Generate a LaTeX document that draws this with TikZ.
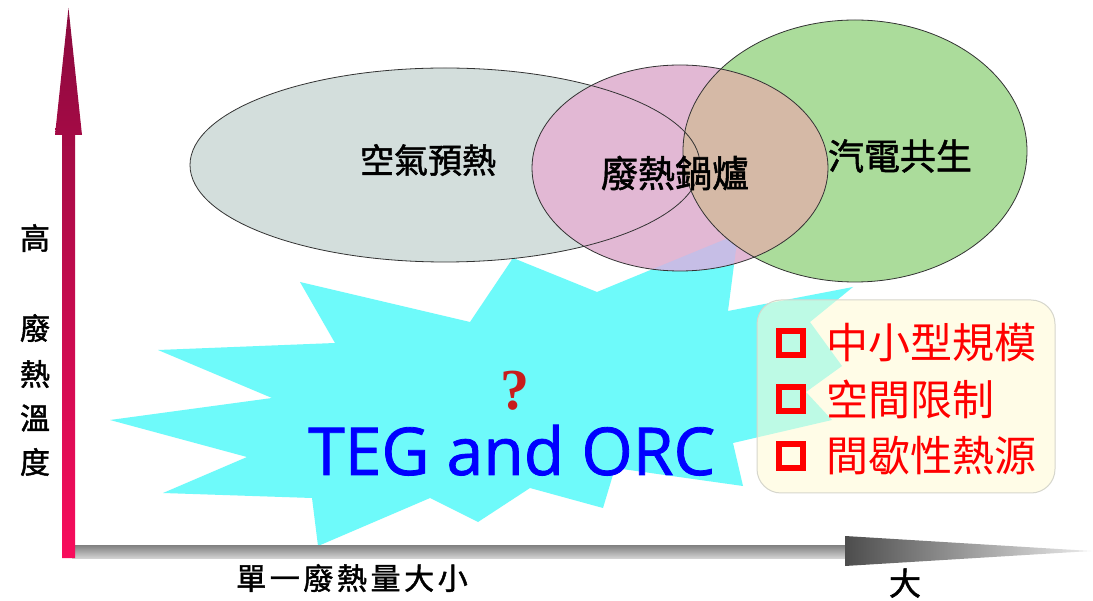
\documentclass[tikz,border=0pt]{standalone}
\usepackage{fontspec}
\newfontfamily\cjk{Noto Sans CJK TC}
\newfontfamily\cjkb{Noto Sans CJK TC}[FakeBold=1.5]
\newfontfamily\opensans{Open Sans}[FakeBold=1.2]
\newfontfamily\lserif{Liberation Serif}
\definecolor{cyanb}{HTML}{6EFAFA}
\definecolor{grayf}{HTML}{D3DEDC}
\definecolor{pinkf}{HTML}{E2B8D4}
\definecolor{greenf}{HTML}{ABDC9B}
\definecolor{tanf}{HTML}{D5B9A6}
\definecolor{lavf}{HTML}{C6BEE6}
\definecolor{boxfill}{HTML}{FFFBD5}
\definecolor{boxborder}{HTML}{D6D6CC}
\definecolor{boxred}{HTML}{FF0000}
\definecolor{tegblue}{HTML}{0000FF}
\definecolor{qred}{HTML}{C81C1C}
\definecolor{arrtop}{HTML}{8A0A3E}
\definecolor{arrbot}{HTML}{F80C5C}
\begin{document}
\begin{tikzpicture}[x=1pt,y=-1pt,
  lbl/.style={font=\cjkb\fontsize{34}{34}\selectfont, text=black, inner sep=0pt},
  axlbl/.style={font=\cjkb\fontsize{30}{30}\selectfont, text=black, inner sep=0pt},
  item/.style={font=\cjk\fontsize{42}{42}\selectfont, text=boxred, anchor=west, inner sep=0pt},
  chk/.style={draw=boxred, line width=6pt, minimum size=24pt, inner sep=0pt},
  outl/.style={draw=black!80, line width=0.8pt}]
\useasboundingbox (0,0) rectangle (1093,601);
\fill[white] (0,0) rectangle (1093,601);
% starburst coordinates
\foreach \px/\py [count=\i] in {300/282,470/322,513/258,597/292,738/234,728/311,853/287,810/322,842/366,806/392,832/420,733/443,743/486,615/468,603/508,530/488,478/522,430/498,318/546,312/498,163/493,247/457,110/420,272/398,158/350,335/343}
  \coordinate (b\i) at (\px,\py);
\fill[cyanb] (b1) \foreach \i in {2,...,26} {-- (b\i)} -- cycle;
% ellipses
\fill[grayf] (445,165) ellipse [x radius=255, y radius=97];
\fill[greenf] (855,151) ellipse [x radius=172, y radius=131];
\fill[pinkf] (680,168) ellipse [x radius=148, y radius=103];
\begin{scope}
  \clip (680,168) ellipse [x radius=148, y radius=103];
  \fill[lavf] (b1) \foreach \i in {2,...,26} {-- (b\i)} -- cycle;
  \fill[tanf] (855,151) ellipse [x radius=172, y radius=131];
\end{scope}
\path[outl] (445,165) ellipse [x radius=255, y radius=97];
\path[outl] (855,151) ellipse [x radius=172, y radius=131];
\path[outl] (680,168) ellipse [x radius=148, y radius=103];
% labels in ellipses
\node[lbl] (t1) at (428,160) {空氣預熱};
\node[lbl, font=\cjkb\fontsize{37}{37}\selectfont] (t2) at (675,173) {廢熱鍋爐};
\node[lbl, font=\cjkb\fontsize{36}{36}\selectfont] (t3) at (900,156) {汽電共生};
% question mark and TEG
\node[text=qred, font=\lserif\bfseries\fontsize{58}{58}\selectfont, inner sep=0pt] (q) at (515,391) {?};
\node[anchor=base west, text=tegblue, font=\opensans\fontsize{66}{66}\selectfont, inner sep=0pt] (teg) at (308,475) {TEG and ORC};
% box
\path[draw=boxborder, line width=1pt, fill=boxfill, fill opacity=0.55, rounded corners=24pt] (757,300) rectangle (1055,493);
\node[chk] (c1) at (791,343) {};
\node[chk] (c2) at (791,399) {};
\node[chk] (c3) at (791,456) {};
\node[item] (i1) at (826,343) {中小型規模};
\node[item] (i2) at (826,399) {空間限制};
\node[item] (i3) at (826,456) {間歇性熱源};
% axes
\shade[top color=black!50, bottom color=black!18] (72,545) rectangle (846,558);
\shade[left color=black!70, right color=black!8] (845,536) -- (1091,551) -- (845,566) -- cycle;
\shade[top color=arrtop, bottom color=arrbot] (62,558) -- (62,135) -- (55,135) -- (68.5,8) -- (82,135) -- (75,135) -- (75,558) -- cycle;
% axis labels
\node[axlbl] (y0) at (35,238) {高};
\node[axlbl] (y1) at (35,328) {廢};
\node[axlbl] (y2) at (35,374) {熱};
\node[axlbl] (y3) at (35,418) {溫};
\node[axlbl] (y4) at (35,462) {度};
\node[axlbl, font=\cjkb\fontsize{30}{30}\selectfont\addfontfeatures{LetterSpace=12}] (x0) at (352,578) {單一廢熱量大小};
\node[axlbl, font=\cjkb\fontsize{32}{32}\selectfont] (x1) at (905,583) {大};
\end{tikzpicture}
\end{document}
